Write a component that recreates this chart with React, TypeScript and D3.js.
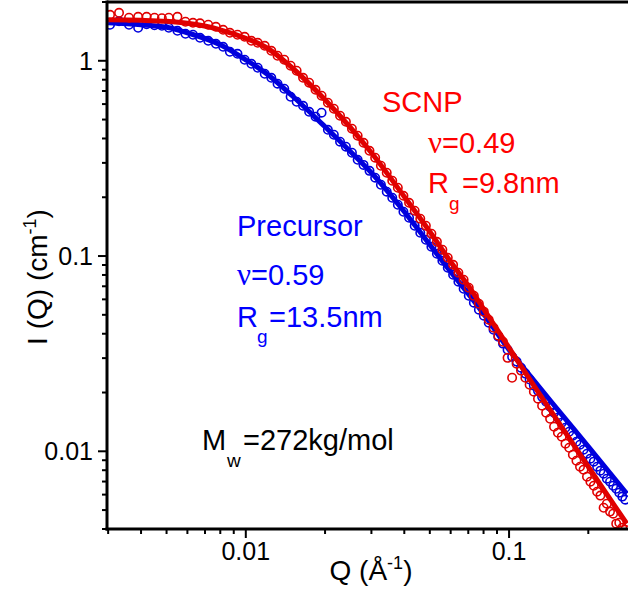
import React from "react";
import * as d3 from "d3";

// scattering vector Q (1/Å) of the measured points
const qData = [
  0.00305, 0.0033, 0.0036, 0.0039, 0.0042, 0.0045, 0.0048, 0.0051, 0.0055, 0.0059,
  0.0063, 0.0067, 0.0072, 0.0077, 0.0082, 0.0087, 0.0093, 0.0099, 0.0105, 0.0111,
  0.0118, 0.0125, 0.0132, 0.014, 0.0148, 0.0156, 0.0165, 0.0174, 0.0184, 0.0194,
  0.0205, 0.0216, 0.0228, 0.024, 0.0253, 0.0266, 0.028, 0.0295, 0.031, 0.0326,
  0.0343, 0.036, 0.0378, 0.0397, 0.0417, 0.0438, 0.046, 0.0483, 0.0507, 0.0532,
  0.0558, 0.0585, 0.0613, 0.0642, 0.0672, 0.0703, 0.0735, 0.0768, 0.0802, 0.0837,
  0.0873, 0.091, 0.0948, 0.0987, 0.1027, 0.1068, 0.111, 0.1153, 0.1197, 0.1242,
  0.1288, 0.1335, 0.1383, 0.1432, 0.1482, 0.1533, 0.1585, 0.1638, 0.1692, 0.1747,
  0.1803, 0.186, 0.1918, 0.1977, 0.2037, 0.2098, 0.216, 0.2223, 0.2287, 0.2352,
  0.2418, 0.2485, 0.2553, 0.2622, 0.2692, 0.2763,
];

// I(Q) of the precursor (blue circles)
const precursorData = [
  1.529, 1.593, 1.529, 1.476, 1.538, 1.52, 1.511, 1.476, 1.424, 1.375,
  1.359, 1.311, 1.266, 1.222, 1.179, 1.112, 1.086, 1.012, 0.965, 0.921,
  0.858, 0.818, 0.763, 0.719, 0.654, 0.617, 0.588, 0.548, 0.517, 0.542,
  0.443, 0.418, 0.385, 0.363, 0.338, 0.311, 0.293, 0.273, 0.252, 0.2318,
  0.2135, 0.1988, 0.1831, 0.1686, 0.1571, 0.1429, 0.1316, 0.1212, 0.1116, 0.1027,
  0.0946, 0.0871, 0.0802, 0.0739, 0.068, 0.0626, 0.0577, 0.0531, 0.0495, 0.0456,
  0.0419, 0.0386, 0.0356, 0.0331, 0.0305, 0.0288, 0.0268, 0.025, 0.0233, 0.0217,
  0.0204, 0.019, 0.01795, 0.01692, 0.01577, 0.01487, 0.01401, 0.01321, 0.0126, 0.01202,
  0.0112, 0.01081, 0.01019, 0.00972, 0.00917, 0.00885, 0.00834, 0.00796, 0.00768, 0.00724,
  0.00699, 0.00666, 0.00643, 0.00614, 0.00586, 0.00565,
];

// I(Q) of the SCNP (red circles)
const scnpData = [
  1.72, 1.761, 1.661, 1.68, 1.68, 1.661, 1.651, 1.661, 1.68, 1.584,
  1.565, 1.556, 1.529, 1.493, 1.441, 1.391, 1.359, 1.327, 1.266, 1.236,
  1.193, 1.125, 1.061, 1.012, 0.943, 0.889, 0.818, 0.772, 0.71, 0.662,
  0.61, 0.568, 0.523, 0.487, 0.449, 0.413, 0.38, 0.346, 0.319, 0.29,
  0.267, 0.243, 0.2237, 0.2035, 0.1874, 0.1706, 0.1552, 0.1429, 0.1301, 0.1183,
  0.1077, 0.098, 0.0902, 0.0821, 0.0756, 0.0688, 0.0626, 0.057, 0.0519, 0.0472,
  0.0429, 0.0391, 0.0364, 0.0301, 0.0238, 0.0281, 0.0259, 0.0238, 0.0219, 0.0202,
  0.0186, 0.01712, 0.01577, 0.01468, 0.01336, 0.01246, 0.01188, 0.01094, 0.01043, 0.00961,
  0.00895, 0.00834, 0.00805, 0.00741, 0.00699, 0.00666, 0.00621, 0.00593, 0.00514, 0.00539,
  0.00491, 0.00479, 0.00426, 0.00431, 0.00406, 0.00397,
];

// fitted curves
const qFit = [
  0.003, 0.004, 0.005, 0.006, 0.008, 0.01, 0.012, 0.015, 0.02, 0.025, 0.03,
  0.04, 0.05, 0.06, 0.07, 0.08, 0.1, 0.12, 0.15, 0.2, 0.25, 0.28,
];
const precursorFit = [
  1.566, 1.529, 1.484, 1.391, 1.208, 1.012, 0.858, 0.662, 0.459, 0.342, 0.267,
  0.1686, 0.1143, 0.0831, 0.0641, 0.0506, 0.0331, 0.0244, 0.0169, 0.01056, 0.00732, 0.00607,
];
const scnpFit = [
  1.622, 1.612, 1.593, 1.556, 1.441, 1.304, 1.166, 0.921, 0.631, 0.454, 0.338,
  0.2012, 0.1332, 0.0935, 0.0705, 0.0537, 0.0339, 0.02326, 0.01486, 0.00834, 0.00533, 0.00426,
];

const xMajor = [0.01, 0.1];
const xTickLabels = ["0.01", "0.1"];
const yMajor = [0.01, 0.1, 1];
const yTickLabels = ["0.01", "0.1", "1"];

const RED = "#e00000";
const BLUE = "#0000dd";
const FONT = "'Liberation Sans', Arial, sans-serif";

export default function App() {
  const width = 628;
  const height = 592;
  const left = 107, right = 628, top = 2, bottom = 529;

  const x = d3.scaleLog().domain([0.00297, 0.283]).range([left, right]);
  const y = d3.scaleLog().domain([2.0, 0.004]).range([top, bottom]);

  const line = d3
    .line<[number, number]>()
    .x((d) => x(d[0]))
    .y((d) => y(d[1]))
    .curve(d3.curveMonotoneX);

  const xTicks = x.ticks();
  const yTicks = y.ticks();
  const isMajor = (v: number) => Math.abs(Math.log10(v) - Math.round(Math.log10(v))) < 1e-6;

  const series = [
    { data: precursorData, fit: precursorFit, color: BLUE },
    { data: scnpData, fit: scnpFit, color: RED },
  ];

  return (
    <div>
      <style>{`body{margin:0}`}</style>
      <svg width={width} height={height} style={{ display: "block", background: "#fff" }} fontFamily={FONT}>
        <defs>
          <clipPath id="plot">
            <rect x={left} y={top} width={right - left} height={bottom - top} />
          </clipPath>
        </defs>

        <g clipPath="url(#plot)">
          {series.map((s, si) => (
            <g key={si}>
              {qData.map((q, i) => (
                <circle
                  key={i}
                  cx={x(q)}
                  cy={y(s.data[i])}
                  r={4.2}
                  fill="none"
                  stroke={s.color}
                  strokeWidth={1.6}
                />
              ))}
              <path
                d={line(qFit.map((q, i) => [q, s.fit[i]] as [number, number])) || ""}
                fill="none"
                stroke={s.color}
                strokeWidth={5}
              />
            </g>
          ))}
        </g>

        {/* frame */}
        <line x1={left} x2={right} y1={top} y2={top} stroke="#000" strokeWidth={3} />
        <line x1={left} x2={left} y1={top - 1.5} y2={bottom + 1.5} stroke="#000" strokeWidth={3} />
        <line x1={left - 1.5} x2={right} y1={bottom} y2={bottom} stroke="#000" strokeWidth={3} />

        {/* y ticks */}
        {yTicks.map((t, i) => (
          <line
            key={i}
            x1={left - (isMajor(t) ? 9 : 5)}
            x2={left}
            y1={y(t)}
            y2={y(t)}
            stroke="#000"
            strokeWidth={2}
          />
        ))}
        {yMajor.map((t, i) => (
          <text key={i} x={93} y={y(t)} dy="0.36em" textAnchor="end" fontSize={25}>
            {yTickLabels[i]}
          </text>
        ))}

        {/* x ticks */}
        {xTicks.map((t, i) => (
          <line
            key={i}
            x1={x(t)}
            x2={x(t)}
            y1={bottom}
            y2={bottom + (isMajor(t) ? 9 : 5)}
            stroke="#000"
            strokeWidth={2}
          />
        ))}
        {xMajor.map((t, i) => (
          <text key={i} x={x(t)} y={560} textAnchor="middle" fontSize={25}>
            {xTickLabels[i]}
          </text>
        ))}

        {/* axis titles */}
        <text x={371} y={580} textAnchor="middle" fontSize={28}>
          Q (Å<tspan dy={-11} fontSize={18}>-1</tspan>
          <tspan dy={11}>)</tspan>
        </text>
        <text transform="translate(47,277) rotate(-90)" textAnchor="middle" fontSize={28}>
          I (Q) (cm<tspan dy={-11} fontSize={18}>-1</tspan>
          <tspan dy={11}>)</tspan>
        </text>

        {/* SCNP annotation */}
        <g fill="#ff0000" fontSize={29}>
          <text x={382} y={112}>SCNP</text>
          <text x={428} y={153}>
            <tspan fontFamily="'Liberation Serif', serif" fontSize={31}>ν</tspan>=0.49
          </text>
          <text x={428} y={193}>R</text>
          <text x={449} y={210} fontSize={19}>g</text>
          <text x={462} y={193}>=9.8nm</text>
        </g>

        {/* precursor annotation */}
        <g fill="#0000ff" fontSize={29}>
          <text x={237} y={236}>Precursor</text>
          <text x={237} y={285}>
            <tspan fontFamily="'Liberation Serif', serif" fontSize={31}>ν</tspan>=0.59
          </text>
          <text x={237} y={327}>R</text>
          <text x={257} y={343} fontSize={19}>g</text>
          <text x={269} y={327}>=13.5nm</text>
        </g>

        {/* molar mass */}
        <g fill="#000" fontSize={29}>
          <text x={202} y={450}>M</text>
          <text x={227} y={467} fontSize={19}>w</text>
          <text x={243} y={450}>=272kg/mol</text>
        </g>
      </svg>
    </div>
  );
}
